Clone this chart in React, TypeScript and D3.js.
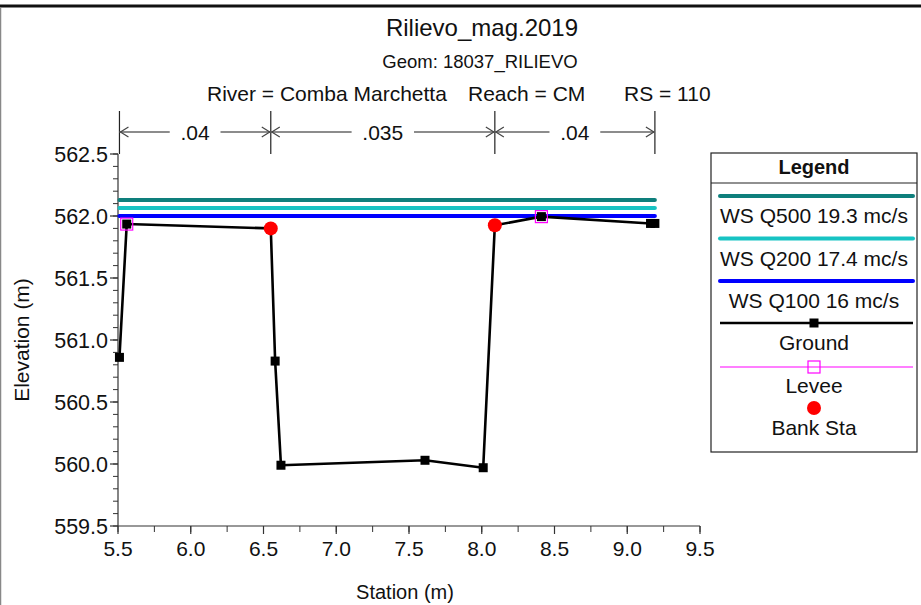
import React from "react";
import * as d3 from "d3";

// Cross-section survey data (station in m, elevation in m)
const groundStation = [5.51, 5.56, 6.55, 6.58, 6.62, 7.61, 8.01, 8.09, 8.41, 9.16, 9.19];
const groundElev = [560.86, 561.935, 561.90, 560.83, 559.99, 560.03, 559.97, 561.925, 561.995, 561.94, 561.94];

const leveeStation = [5.56, 8.41];
const leveeElev = [561.935, 561.995];

const bankStation = [6.55, 8.09];
const bankElev = [561.90, 561.925];

// Water surface profiles
const wsNames = ["WS Q500 19.3 mc/s", "WS Q200 17.4 mc/s", "WS Q100 16 mc/s"];
const wsElev = [562.13, 562.065, 562.0];
const wsColors = ["#0e7f7c", "#17c3c3", "#0000ff"];

// Manning's n values between breakpoints
const manningBreaks = [5.51, 6.55, 8.09, 9.19];
const manningN = [".04", ".035", ".04"];

const xTicks = [5.5, 6.0, 6.5, 7.0, 7.5, 8.0, 8.5, 9.0, 9.5];
const yTicks = [559.5, 560.0, 560.5, 561.0, 561.5, 562.0, 562.5];

const W = 921;
const H = 605;
const FONT = "'Liberation Sans', Arial, sans-serif";

export default function App() {
  const x = d3.scaleLinear().domain([5.5, 9.5]).range([118, 700]);
  const y = d3.scaleLinear().domain([559.5, 562.5]).range([526, 154]);

  const groundPts: [number, number][] = groundStation.map((s, i) => [s, groundElev[i]]);
  const line = d3
    .line<[number, number]>()
    .x((d) => x(d[0]))
    .y((d) => y(d[1]));

  const xMinor = d3.range(5.5, 9.5001, 0.25);
  const yMinor = d3.range(559.5, 562.5001, 0.1);

  const wsStart = groundStation[0];
  const wsEnd = groundStation[groundStation.length - 1];

  const arrowY = 132;
  const sq = 9;

  // legend layout
  const lgX = 711;
  const lgW = 206;
  const lgTop = 153;
  const lgBottom = 452;
  const lgCx = lgX + lgW / 2;

  return (
    <svg
      width={W}
      height={H}
      style={{ position: "absolute", left: 0, top: 0, background: "#fff" }}
      fontFamily={FONT}
    >
      {/* window frame */}
      <line x1={0} x2={W} y1={6} y2={6} stroke="#111" strokeWidth={3} />
      <line x1={0.5} x2={0.5} y1={7} y2={H} stroke="#888" strokeWidth={1.5} />

      {/* titles */}
      <text x={482} y={36} textAnchor="middle" fontSize={24} fill="#111">
        Rilievo_mag.2019
      </text>
      <text x={480} y={68} textAnchor="middle" fontSize={18.5} fill="#111">
        Geom: 18037_RILIEVO
      </text>
      <text x={207} y={101} fontSize={21} fill="#111">
        River = Comba Marchetta
      </text>
      <text x={468} y={101} fontSize={21} fill="#111">
        Reach = CM
      </text>
      <text x={624} y={101} fontSize={21} fill="#111">
        RS = 110
      </text>

      {/* Manning's n breakpoints */}
      {manningBreaks.map((s, i) => (
        <line key={"mb" + i} x1={x(s)} x2={x(s)} y1={111} y2={154} stroke="#222" strokeWidth={1.2} />
      ))}
      {manningN.map((n, i) => {
        const a = x(manningBreaks[i]);
        const b = x(manningBreaks[i + 1]);
        const c = (a + b) / 2;
        const half = n.length * 5.8 + 8;
        return (
          <g key={"mn" + i}>
            <line x1={a} x2={c - half} y1={arrowY} y2={arrowY} stroke="#666" strokeWidth={1.5} />
            <line x1={c + half} x2={b} y1={arrowY} y2={arrowY} stroke="#666" strokeWidth={1.5} />
            <path
              d={`M${a + 9},${arrowY - 5} L${a + 1},${arrowY} L${a + 9},${arrowY + 5}`}
              fill="none"
              stroke="#444"
              strokeWidth={1.2}
            />
            <path
              d={`M${b - 9},${arrowY - 5} L${b - 1},${arrowY} L${b - 9},${arrowY + 5}`}
              fill="none"
              stroke="#444"
              strokeWidth={1.2}
            />
            <text x={c} y={arrowY + 8} textAnchor="middle" fontSize={21} fill="#111">
              {n}
            </text>
          </g>
        );
      })}

      {/* axes */}
      <line x1={118} x2={118} y1={154} y2={526} stroke="#333" strokeWidth={1.2} />
      <line x1={118} x2={700} y1={526} y2={526} stroke="#333" strokeWidth={1.2} />
      {yMinor.map((v, i) => (
        <line key={"ym" + i} x1={113} x2={118} y1={y(v)} y2={y(v)} stroke="#333" strokeWidth={1} />
      ))}
      {yTicks.map((v) => (
        <g key={"yt" + v}>
          <line x1={110} x2={118} y1={y(v)} y2={y(v)} stroke="#333" strokeWidth={1.2} />
          <text x={108} y={y(v) + 8} textAnchor="end" fontSize={21.5} fill="#111">
            {v.toFixed(1)}
          </text>
        </g>
      ))}
      {xMinor.map((v, i) => (
        <line key={"xm" + i} x1={x(v)} x2={x(v)} y1={526} y2={532} stroke="#333" strokeWidth={1} />
      ))}
      {xTicks.map((v) => (
        <g key={"xt" + v}>
          <line x1={x(v)} x2={x(v)} y1={526} y2={534} stroke="#333" strokeWidth={1.2} />
          <text x={x(v)} y={556} textAnchor="middle" fontSize={21} fill="#111">
            {v.toFixed(1)}
          </text>
        </g>
      ))}
      <text x={405} y={599} textAnchor="middle" fontSize={20} fill="#111">
        Station (m)
      </text>
      <text
        transform={`translate(29,340) rotate(-90)`}
        textAnchor="middle"
        fontSize={21}
        fill="#111"
      >
        Elevation (m)
      </text>

      {/* water surfaces */}
      {wsElev.map((e, i) => (
        <line
          key={"ws" + i}
          x1={x(wsStart)}
          x2={x(wsEnd)}
          y1={y(e)}
          y2={y(e)}
          stroke={wsColors[i]}
          strokeWidth={4}
          strokeLinecap="round"
        />
      ))}

      {/* ground */}
      <path d={line(groundPts) || ""} fill="none" stroke="#000" strokeWidth={2.6} strokeLinejoin="round" />
      {groundPts.map((p, i) => (
        <rect key={"g" + i} x={x(p[0]) - sq / 2} y={y(p[1]) - sq / 2} width={sq} height={sq} fill="#000" />
      ))}

      {/* levees */}
      {leveeStation.map((s, i) => (
        <rect
          key={"lv" + i}
          x={x(s) - 6}
          y={y(leveeElev[i]) - 6}
          width={12}
          height={12}
          fill="none"
          stroke="#ff00ff"
          strokeWidth={1.2}
        />
      ))}

      {/* bank stations */}
      {bankStation.map((s, i) => (
        <circle key={"bk" + i} cx={x(s)} cy={y(bankElev[i])} r={7} fill="#ff0000" />
      ))}

      {/* legend */}
      <rect x={lgX} y={lgTop} width={lgW} height={lgBottom - lgTop} fill="#fff" stroke="#222" strokeWidth={1.2} />
      <line x1={lgX} x2={lgX + lgW} y1={183} y2={183} stroke="#222" strokeWidth={1.2} />
      <text x={lgCx} y={174} textAnchor="middle" fontSize={20} fontWeight="bold" fill="#111">
        Legend
      </text>
      {wsNames.map((n, i) => {
        const ly = 196 + i * 42.5;
        return (
          <g key={"lw" + i}>
            <line x1={720} x2={913} y1={ly} y2={ly} stroke={wsColors[i]} strokeWidth={4} strokeLinecap="round" />
            <text x={lgCx} y={ly + 27} textAnchor="middle" fontSize={21} fill="#111">
              {n}
            </text>
          </g>
        );
      })}
      <line x1={720} x2={913} y1={323} y2={323} stroke="#000" strokeWidth={2.5} />
      <rect x={lgCx - 4.5} y={323 - 4.5} width={9} height={9} fill="#000" />
      <text x={lgCx} y={350} textAnchor="middle" fontSize={21} fill="#111">
        Ground
      </text>
      <line x1={720} x2={913} y1={367} y2={367} stroke="#ff00ff" strokeWidth={1.2} />
      <rect x={lgCx - 6} y={367 - 6} width={12} height={12} fill="none" stroke="#ff00ff" strokeWidth={1.2} />
      <text x={lgCx} y={393} textAnchor="middle" fontSize={21} fill="#111">
        Levee
      </text>
      <circle cx={lgCx} cy={408} r={7} fill="#ff0000" />
      <text x={lgCx} y={435} textAnchor="middle" fontSize={21} fill="#111">
        Bank Sta
      </text>
    </svg>
  );
}
